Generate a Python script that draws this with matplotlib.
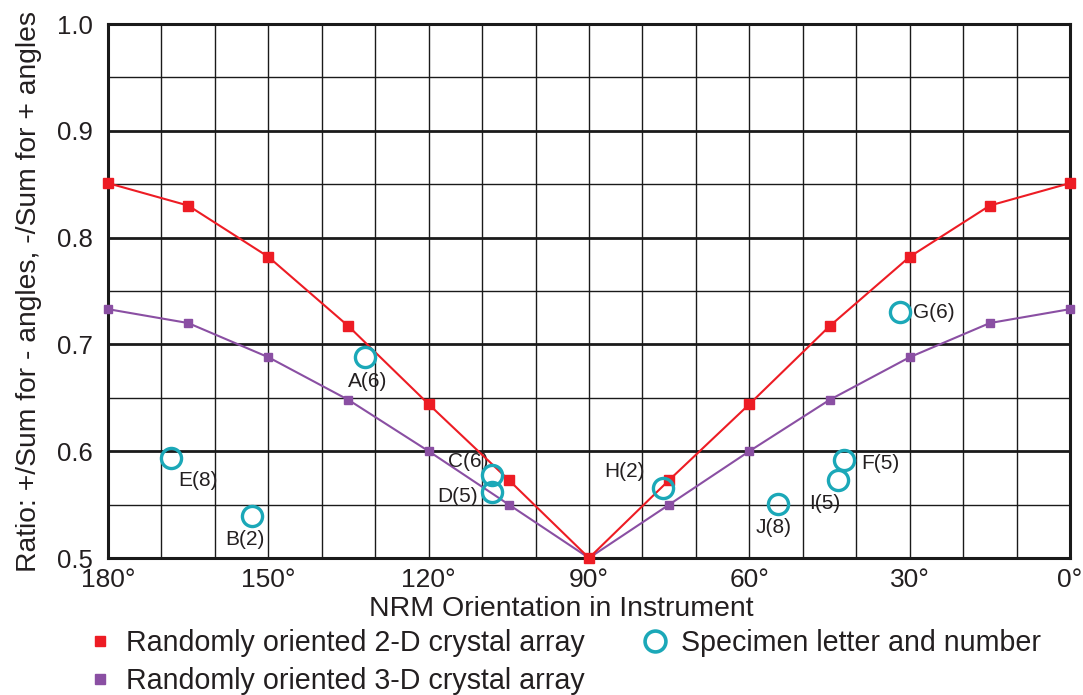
import numpy as np
import matplotlib.pyplot as plt
from matplotlib.lines import Line2D
from matplotlib.ticker import MultipleLocator

plt.rcParams['font.family'] = ['Liberation Sans', 'DejaVu Sans']

# model curves (angle in degrees, ratio)
angles = [180, 165, 150, 135, 120, 105, 90, 75, 60, 45, 30, 15, 0]
ratio_2d = [0.851, 0.830, 0.782, 0.717, 0.644, 0.573, 0.500,
            0.573, 0.644, 0.717, 0.782, 0.830, 0.851]
ratio_3d = [0.733, 0.720, 0.688, 0.648, 0.600, 0.550, 0.500,
            0.550, 0.600, 0.648, 0.688, 0.720, 0.733]

# specimens
spec_names = ['A(6)', 'E(8)', 'B(2)', 'C(6)', 'D(5)', 'H(2)', 'J(8)', 'G(6)', 'F(5)', 'I(5)']
spec_angle = [132.0, 168.3, 153.1, 108.1, 108.2, 76.1, 54.7, 31.9, 42.3, 43.5]
spec_ratio = [0.688, 0.5935, 0.539, 0.578, 0.562, 0.566, 0.551, 0.730, 0.592, 0.573]
# label offsets in pixels (dx, dy) relative to circle
spec_off = [(3, -24), (27, -22), (-7, -23), (-24, 13), (-34, -5), (-39, 16),
            (-4, -24), (34, 0), (36, -4), (-13, -23)]

red = '#ED1C24'
purple = '#8A4FA3'
teal = '#1BA8B8'
ink = '#231f20'

fig = plt.figure(figsize=(10.83, 6.95), dpi=100)
ax = fig.add_axes([108/1083, 1-558/695, (1070-108)/1083, (558-24)/695])

ax.set_xlim(180, 0)
ax.set_ylim(0.5, 1.0)

# grid
ax.xaxis.set_major_locator(MultipleLocator(30))
ax.xaxis.set_minor_locator(MultipleLocator(10))
ax.yaxis.set_major_locator(MultipleLocator(0.1))
ax.yaxis.set_minor_locator(MultipleLocator(0.05))
ax.grid(which='minor', axis='both', color='#1a1a1a', lw=1.0)
ax.grid(which='major', axis='x', color='#1a1a1a', lw=1.0)
ax.grid(which='major', axis='y', color='#1a1a1a', lw=2.0)
ax.set_axisbelow(True)
for s in ax.spines.values():
    s.set_linewidth(2.2)
    s.set_color('#1a1a1a')

ax.tick_params(which='both', length=0)
ax.tick_params(axis='y', labelsize=18.5, pad=11, colors=ink)
ax.tick_params(axis='x', labelsize=19, pad=7, colors=ink)
ax.set_xticks([180, 150, 120, 90, 60, 30, 0])
ax.set_xticklabels(['180°', '150°', '120°', '90°', '60°', '30°', '0°'])
ax.set_yticklabels([f'{v:.1f}' for v in ax.get_yticks()])

ax.plot(angles, ratio_3d, color=purple, lw=1.5, marker='s', ms=6,
        zorder=3, clip_on=False)
ax.plot(angles, ratio_2d, color=red, lw=1.5, marker='s', ms=6.8,
        zorder=4, clip_on=False)

ax.plot(spec_angle, spec_ratio, ls='none', marker='o', ms=14.5, mfc='none',
        mec=teal, mew=2.4, zorder=5)
for name, a, r, off in zip(spec_names, spec_angle, spec_ratio, spec_off):
    ax.annotate(name, (a, r), xytext=off, textcoords='offset pixels',
                ha='center', va='center', fontsize=15, color=ink)

ax.set_xlabel('NRM Orientation in Instrument', fontsize=20.5, color=ink, labelpad=3)
ax.xaxis.label.set_x(0.471)
ax.set_ylabel('Ratio: +/Sum for - angles, -/Sum for + angles', fontsize=20.3,
              color=ink, labelpad=11)

handles = [
    Line2D([], [], ls='none', marker='s', ms=7.5, color=red),
    Line2D([], [], ls='none', marker='s', ms=7.5, color=purple),
    Line2D([], [], ls='none', marker='o', ms=15, mfc='none', mec=teal, mew=2.6),
]
labels = ['Randomly oriented 2-D crystal array',
          'Randomly oriented 3-D crystal array',
          'Specimen letter and number']
fig.legend(handles, labels, ncol=2, loc='upper left',
           bbox_to_anchor=(86/1083, 1-629/695), frameon=False, fontsize=20.6,
           borderpad=0, borderaxespad=0, handlelength=1.0, handletextpad=0.4,
           labelspacing=0.35, columnspacing=1.95, labelcolor=ink)

fig.savefig('out.png', dpi=100)
